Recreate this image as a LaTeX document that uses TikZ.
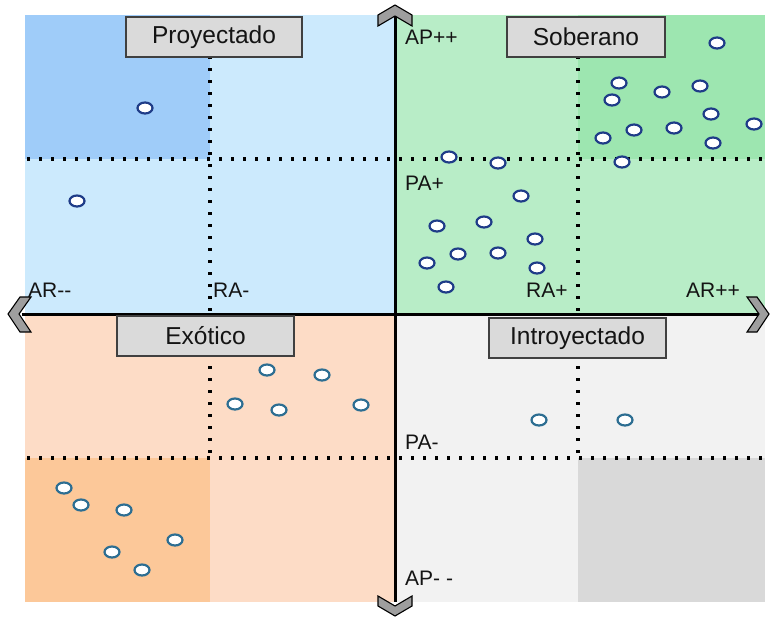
\documentclass[tikz,border=0pt]{standalone}
\usepackage{fontspec}
\setmainfont{Liberation Sans}
\usetikzlibrary{shapes.geometric}
\definecolor{blueL}{HTML}{CCEAFD}
\definecolor{blueD}{HTML}{9FCCF9}
\definecolor{greenL}{HTML}{B8EDC7}
\definecolor{greenD}{HTML}{9DE6B0}
\definecolor{peachL}{HTML}{FDDCC6}
\definecolor{peachD}{HTML}{FCC899}
\definecolor{greyL}{HTML}{F2F2F2}
\definecolor{greyD}{HTML}{D9D9D9}
\definecolor{boxfill}{HTML}{DADADA}
\definecolor{ink}{HTML}{141414}
\definecolor{navy}{HTML}{1F3C88}
\definecolor{teal}{HTML}{2D6E92}
\begin{document}
\begin{tikzpicture}[x=1pt,y=-1pt,
  gridline/.style={line width=3.2pt, dash pattern=on 3.2pt off 8.8pt, black},
  axisline/.style={line width=3pt, black},
  titlebox/.style={draw=black!75, fill=boxfill, line width=1.3pt,
    minimum height=40pt, inner sep=0pt, text=ink,
    font=\fontsize{24.5}{28}\selectfont},
  tag/.style={anchor=base west, inner sep=0pt, text=ink,
    font=\fontsize{21}{24}\selectfont},
  upt/.style={ellipse, draw=navy, fill=white, line width=2.2pt,
    minimum width=15pt, minimum height=11pt, inner sep=0pt},
  lpt/.style={upt, draw=teal},
  chev/.style={fill=black!38, draw=black, line width=1.1pt, line join=miter}
]
\useasboundingbox (0,0) rectangle (770,618);

% quadrant backgrounds
\fill[blueL]  (25,15)  rectangle (395,314);
\fill[blueD]  (25,15)  rectangle (210,159);
\fill[greenL] (395,15) rectangle (765,314);
\fill[greenD] (578,15) rectangle (765,159);
\fill[peachL] (25,314) rectangle (395,602);
\fill[peachD] (25,458) rectangle (210,602);
\fill[greyL]  (395,314) rectangle (765,602);
\fill[greyD]  (578,458) rectangle (765,602);

% dotted subdivisions
\coordinate (g1a) at (210,20);  \coordinate (g1b) at (210,312);
\coordinate (g2a) at (578,20);  \coordinate (g2b) at (578,312);
\coordinate (g3a) at (210,318); \coordinate (g3b) at (210,458);
\coordinate (g4a) at (578,318); \coordinate (g4b) at (578,458);
\coordinate (h1a) at (27,159);  \coordinate (h1b) at (765,159);
\coordinate (h2a) at (27,458);  \coordinate (h2b) at (765,458);
\draw[gridline] (g1a) -- (g1b);
\draw[gridline] (g2a) -- (g2b);
\draw[gridline] (g3a) -- (g3b);
\draw[gridline] (g4a) -- (g4b);
\draw[gridline] (h1a) -- (h1b);
\draw[gridline] (h2a) -- (h2b);

% axes
\coordinate (top) at (395,16);
\coordinate (bottom) at (395,602);
\coordinate (left) at (22,314);
\coordinate (right) at (758,314);
\draw[axisline] (top) -- (bottom);
\draw[axisline] (left) -- (right);

% chevron arrow heads
\draw[chev] (395,5) -- (412,15) -- (412,26) -- (395,16) -- (378,26) -- (378,15) -- cycle;
\draw[chev] (395,616) -- (412,606) -- (412,596) -- (395,606) -- (378,596) -- (378,606) -- cycle;
\draw[chev] (8,314) -- (20,297) -- (31,297) -- (19,314) -- (31,332) -- (20,332) -- cycle;
\draw[chev] (769,314) -- (757,297) -- (747,297) -- (759,314) -- (747,332) -- (757,332) -- cycle;

% quadrant titles
\node[titlebox, minimum width=176pt] (proy) at (214,37)   {Proyectado};
\node[titlebox, minimum width=158pt] (sob)  at (586,37)   {Soberano};
\node[titlebox, minimum width=177pt] (exo)  at (205.5,336){Exótico};
\node[titlebox, minimum width=177pt] (intr) at (577.5,338){Introyectado};

% axis labels
\node[tag] (app) at (405,45)  {AP++};
\node[tag] (pap) at (405,190) {PA+};
\node[tag] (rap) at (526,297) {RA+};
\node[tag] (arp) at (686,297) {AR++};
\node[tag] (arm) at (28,297)  {AR-{}-};
\node[tag] (ram) at (213,297) {RA-};
\node[tag] (pam) at (405,449) {PA-};
\node[tag] (apm) at (405,585) {AP- -};

% data points, upper half
\foreach \x/\y [count=\i] in {145/108, 77/201,
  717/43, 619/83, 662/92, 700/86, 612/100, 711/114, 754/124, 603/138,
  634/130, 674/128, 713/143, 622/162,
  449/157, 498/163, 521/196, 437/226, 484/222, 535/239, 458/254,
  498/253, 427/263, 537/268, 446/287}
  \node[upt] (u\i) at (\x,\y) {};

% data points, lower half
\foreach \x/\y [count=\i] in {267/370, 322/375, 235/404, 279/410, 361/405,
  64/488, 81/505, 124/510, 175/540, 112/552, 142/570,
  539/420, 625/420}
  \node[lpt] (l\i) at (\x,\y) {};
\end{tikzpicture}
\end{document}
